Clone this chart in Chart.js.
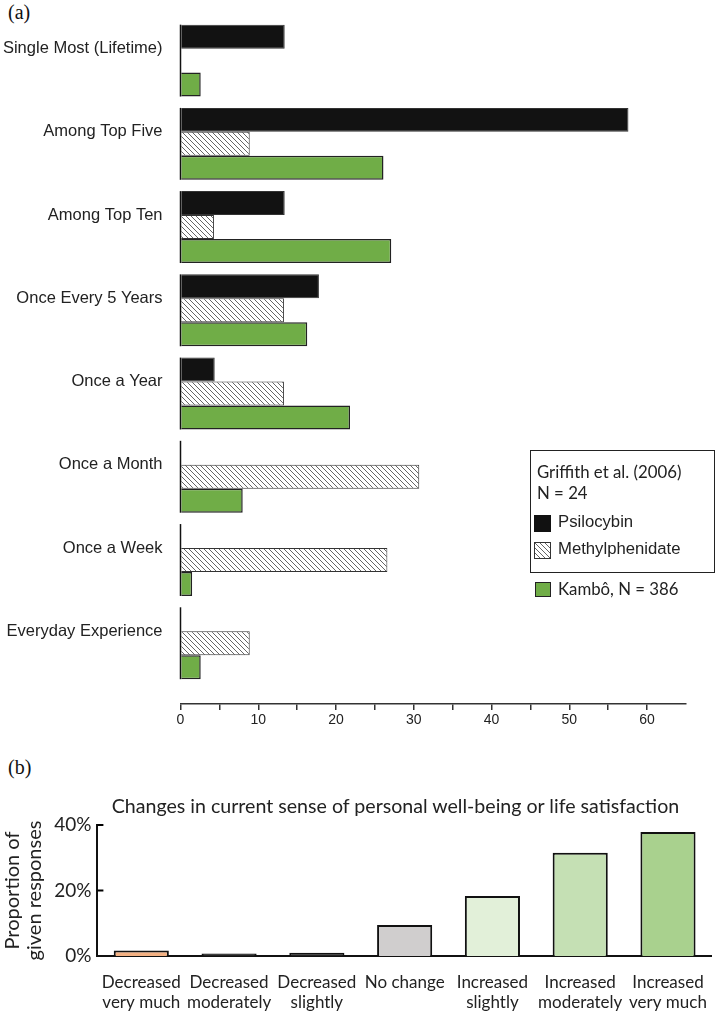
<!DOCTYPE html>
<html>
<head>
<meta charset="utf-8">
<script src="https://cdn.jsdelivr.net/npm/chart.js@4.4.1/dist/chart.umd.min.js"></script>
<style>
  html,body{margin:0;padding:0;background:#fff;}
  body{width:723px;height:1013px;position:relative;overflow:hidden;}
  .abs{position:absolute;}
  #wrapA{left:0;top:0;width:723px;height:740px;}
  #wrapB{left:0;top:760px;width:723px;height:253px;}
  .panel{font-family:"Liberation Serif","DejaVu Serif",serif;font-size:20px;color:#111;}
  #legbox{left:530px;top:450px;width:183px;height:121px;border:1.5px solid #222;box-sizing:content-box;}
  .lgt{font-family:Lato,"Open Sans",sans-serif;font-size:16.8px;color:#222;white-space:nowrap;}
  .lga{font-family:"Liberation Sans",Arial,sans-serif;font-size:16.7px;color:#222;white-space:nowrap;}
  .sw{position:absolute;width:17px;height:17px;box-sizing:border-box;}
  #titleB{left:0;width:791px;top:794px;text-align:center;font-family:Lato,"Open Sans",sans-serif;font-size:19.6px;color:#222;white-space:nowrap;}
</style>
</head>
<body>
<div class="abs panel" style="left:8px;top:1px;">(a)</div>
<div class="abs panel" style="left:8px;top:756px;">(b)</div>
<div id="wrapA" class="abs"><canvas id="cA" width="723" height="740"></canvas></div>
<div id="wrapB" class="abs"><canvas id="cB" width="723" height="253"></canvas></div>

<div id="legbox" class="abs"></div>
<div class="abs lgt" style="left:537px;top:461px;">Griffith et al. (2006)</div>
<div class="abs lgt" style="left:537px;top:482px;">N = 24</div>
<div class="sw" style="left:534px;top:515px;background:#111;"></div>
<div class="abs lga" style="left:558px;top:512px;">Psilocybin</div>
<div class="sw" id="hatchSw" style="left:534px;top:542px;border:1px solid #333;"></div>
<div class="abs lga" style="left:558px;top:539px;">Methylphenidate</div>
<div class="sw" style="left:535px;top:582px;width:16px;height:15px;background:#70ad47;border:1.2px solid #222;"></div>
<div class="abs lgt" style="left:558px;top:578px;">Kambô, N = 386</div>

<div id="titleB" class="abs">Changes in current sense of personal well-being or life satisfaction</div>

<script>
// ---------- Data: panel (a) ----------
const categoriesA = ["Single Most (Lifetime)","Among Top Five","Among Top Ten","Once Every 5 Years","Once a Year","Once a Month","Once a Week","Everyday Experience"];
const psilocybin      = [13.4, 57.6, 13.4, 17.8, 4.4, null, null, null];
const methylphenidate = [null, 8.9, 4.3, 13.3, 13.3, 30.7, 26.6, 8.9];
const kambo           = [2.6, 26.1, 27.1, 16.3, 21.8, 8.0, 1.5, 2.6];
const xTicksA = [0,10,20,30,40,50,60];

// ---------- Data: panel (b) ----------
const categoriesB = [["Decreased","very much"],["Decreased","moderately"],["Decreased","slightly"],["No change"],["Increased","slightly"],["Increased","moderately"],["Increased","very much"]];
const proportions = [1.7, 0.8, 1.0, 9.5, 18.3, 31.5, 37.9];
const yTicksB = [0,20,40];
const colorsB = ["#f4b183","#222222","#222222","#d0cece","#e2f0d9","#c5e0b4","#a9d18e"];

// hatch pattern
function makeHatch(){
  const c=document.createElement('canvas'); c.width=5; c.height=5;
  const g=c.getContext('2d');
  g.fillStyle='#fff'; g.fillRect(0,0,5,5);
  g.strokeStyle='#555'; g.lineWidth=0.9;
  g.beginPath(); g.moveTo(-1,-1); g.lineTo(6,6); g.moveTo(-1,4); g.lineTo(1,6); g.moveTo(4,-1); g.lineTo(6,1); g.stroke();
  return c;
}
const hatchCanvas = makeHatch();
const hatch = document.getElementById('cA').getContext('2d').createPattern(hatchCanvas,'repeat');
document.getElementById('hatchSw').style.background = 'url(' + hatchCanvas.toDataURL() + ')';

const toPts = arr => arr.map((v,i)=>({x:v, y:i}));

const groupAxisPlugin = {
  id:'groupAxis',
  afterDatasetsDraw(chart){
    const {ctx, scales:{x,y}} = chart;
    const unit = Math.abs(y.getPixelForValue(1)-y.getPixelForValue(0));
    const half = unit*0.864/2;
    ctx.save(); ctx.strokeStyle='#111'; ctx.lineWidth=1.5;
    categoriesA.forEach((c,i)=>{
      const cy=y.getPixelForValue(i), px=x.getPixelForValue(0);
      ctx.beginPath(); ctx.moveTo(px, cy-half); ctx.lineTo(px, cy+half); ctx.stroke();
    });
    ctx.restore();
  }
};

new Chart(document.getElementById('cA'), {
  type:'bar',
  data:{
    datasets:[
      {label:'Psilocybin', data:toPts(psilocybin), backgroundColor:'#121212', borderColor:'#333', borderWidth:1},
      {label:'Methylphenidate', data:toPts(methylphenidate), backgroundColor:hatch, borderColor:'#333', borderWidth:1},
      {label:'Kambô, N = 386', data:toPts(kambo), backgroundColor:'#70ad47', borderColor:'#222', borderWidth:1.5}
    ]
  },
  options:{
    indexAxis:'y', responsive:false, animation:false,
    datasets:{bar:{categoryPercentage:0.864, barPercentage:1.0}},
    layout:{padding:{top:19,right:37,left:0,bottom:0}},
    plugins:{legend:{display:false}, tooltip:{enabled:false}},
    scales:{
      y:{type:'linear', reverse:true, min:-0.5, max:7.73, offset:false,
        afterBuildTicks(s){ s.ticks = categoriesA.map((c,i)=>({value:i})); },
        afterFit(s){ s.width = 180.5; s.paddingTop = 0; s.paddingBottom = 0; },
        ticks:{callback:(v)=>categoriesA[v], padding:18, color:'#222', font:{family:'"Liberation Sans", Arial, sans-serif', size:16.5}, labelOffset:-12, autoSkip:false},
        grid:{display:false, drawTicks:false, offset:false}, border:{display:false}
      },
      x:{type:'linear', min:0, max:65,
        afterBuildTicks(s){ const t=[]; for(let v=0; v<=60; v+=5) t.push({value:v}); s.ticks=t; },
        afterFit(s){ s.height = 36; },
        ticks:{callback:(v)=> xTicksA.includes(v) ? String(v) : '', padding:2, color:'#222', font:{family:'"Liberation Sans", Arial, sans-serif', size:14}, maxRotation:0, autoSkip:false},
        grid:{display:true, drawOnChartArea:false, drawTicks:true, tickLength:6, color:'#333', lineWidth:1.5},
        border:{display:true, color:'#333', width:1.5}
      }
    }
  },
  plugins:[groupAxisPlugin]
});

const innerTicks = {
  id:'innerTicks',
  afterDraw(chart){
    const {ctx, scales:{y}} = chart;
    ctx.save(); ctx.strokeStyle='#000'; ctx.lineWidth=2;
    yTicksB.forEach(v=>{ if(v===0) return; const py=y.getPixelForValue(v);
      ctx.beginPath(); ctx.moveTo(y.right, py); ctx.lineTo(y.right+6, py); ctx.stroke(); });
    ctx.restore();
  }
};

new Chart(document.getElementById('cB'), {
  type:'bar',
  data:{labels:categoriesB, datasets:[{data:proportions, backgroundColor:colorsB, borderColor:'#111', borderWidth:2, borderSkipped:'bottom', categoryPercentage:1, barPercentage:0.628}]},
  options:{
    responsive:false, animation:false,
    layout:{padding:{top:65,right:1,left:0,bottom:0}},
    plugins:{legend:{display:false}, tooltip:{enabled:false}},
    scales:{
      y:{min:0, max:40,
        afterBuildTicks(s){ s.ticks = yTicksB.map(v=>({value:v})); },
        afterFit(s){ s.width = 97.4; },
        ticks:{callback:v=>v+'%', padding:6, color:'#222', font:{family:'Lato, "Open Sans", sans-serif', size:19}},
        grid:{display:false, drawTicks:false},
        border:{display:true, color:'#111', width:2},
        title:{display:true, text:['Proportion of','given responses'], color:'#222', font:{family:'Lato, "Open Sans", sans-serif', size:20, lineHeight:1.1}, padding:{top:2,bottom:0}}
      },
      x:{
        afterFit(s){ s.height = 57; },
        ticks:{padding:16, color:'#222', font:{family:'Lato, "Open Sans", sans-serif', size:17, lineHeight:1.2}, maxRotation:0, autoSkip:false},
        grid:{display:false, drawTicks:false},
        border:{display:true, color:'#111', width:2}
      }
    }
  },
  plugins:[innerTicks]
});
</script>
</body>
</html>
